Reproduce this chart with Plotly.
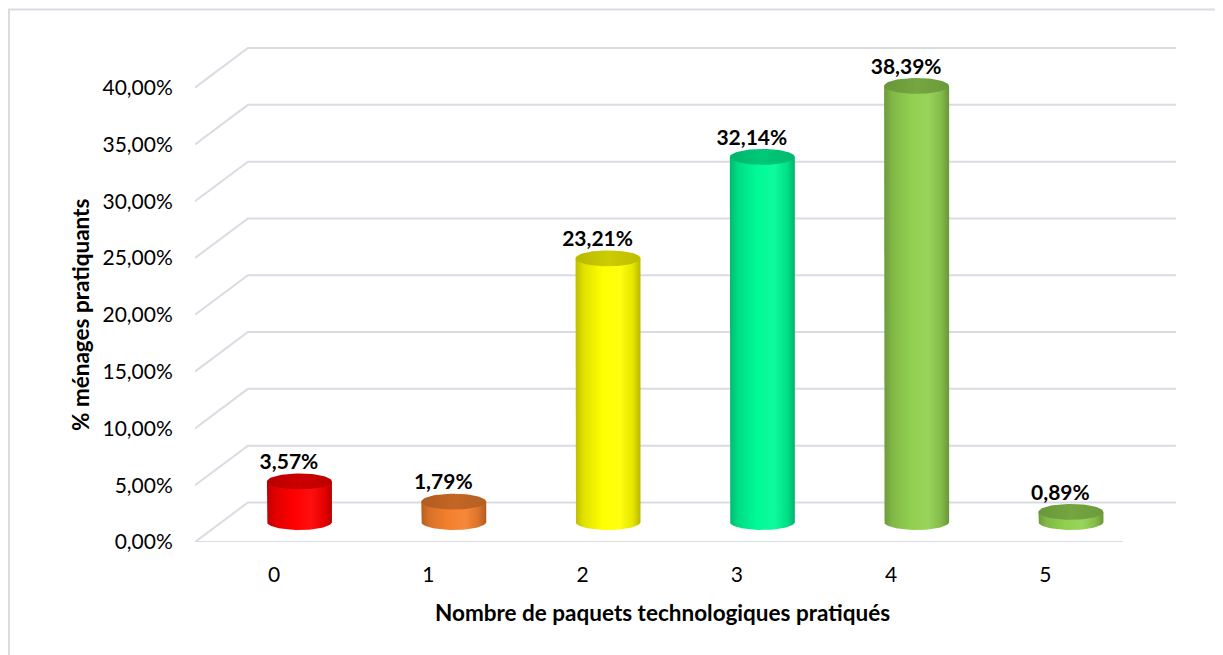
import numpy as np
import plotly.graph_objects as go

# ---------------- data ----------------
categories = ["0", "1", "2", "3", "4", "5"]
values = [3.57, 1.79, 23.21, 32.14, 38.39, 0.89]
value_labels = ["3,57%", "1,79%", "23,21%", "32,14%", "38,39%", "0,89%"]
bar_colors = ["#FF0000", "#F4802E", "#FFFF00", "#00FA96", "#92D050", "#92D050"]
y_tickvals = [0, 5, 10, 15, 20, 25, 30, 35, 40]
y_ticktext = ["0,00%", "5,00%", "10,00%", "15,00%", "20,00%", "25,00%",
              "30,00%", "35,00%", "40,00%"]
x_title = "Nombre de paquets technologiques pratiqués"
y_title = "% ménages pratiquants"

# ---------------- pseudo-3D geometry (axis units) ----------------
X_MIN, X_MAX = -0.512, 5.872          # x axis range
Y_MIN, Y_MAX = 0.0, 45.07             # y axis range
DEPTH_DX, DEPTH_DY = 0.343, 3.48      # front -> back wall shift
MID_DX, MID_DY = 0.165, 1.76          # front -> bar plane shift
BACK_RIGHT = 5.846                    # right end of back wall grid
FLOOR_RIGHT = 5.502                   # right end of front floor line
RX, RY = 0.2106, 0.70                 # cylinder half width / ellipse half height
LABEL_DX, LABEL_DY = 0.097, 3.30

FONT = "Lato, Carlito, Calibri, sans-serif"
GRID = "#D9DCE3"

# page body has an 8px margin: figure placed so plot area lands at x 195..1180, y 30..542
PAGE_OFF = 8
FIG_W, FIG_H = 1223 - PAGE_OFF, 655 - PAGE_OFF
M_L, M_T = 195 - PAGE_OFF, 30 - PAGE_OFF
PLOT_W, PLOT_H = 985, 512
M_R = FIG_W - M_L - PLOT_W
M_B = FIG_H - M_T - PLOT_H


def shade(hex_color, f):
    h = hex_color.lstrip("#")
    r, g, b = (int(h[i:i + 2], 16) for i in (0, 2, 4))
    if f <= 1:
        r, g, b = r * f, g * f, b * f
    else:
        t = f - 1
        r, g, b = r + (255 - r) * t, g + (255 - g) * t, b + (255 - b) * t
    return "rgb(%d,%d,%d)" % (round(r), round(g), round(b))


fig = go.Figure()

# gridlines: diagonal on the side wall + horizontal on the back wall
gx, gy = [], []
for v in y_tickvals:
    gx += [X_MIN, X_MIN + DEPTH_DX, BACK_RIGHT, None]
    gy += [v, v + DEPTH_DY, v + DEPTH_DY, None]
gx += [X_MIN, FLOOR_RIGHT, None]
gy += [0, 0, None]
fig.add_trace(go.Scatter(x=gx, y=gy, mode="lines",
                         line=dict(color=GRID, width=2),
                         hoverinfo="skip", showlegend=False, cliponaxis=False))

# cylinders
t_low = np.linspace(np.pi, 2 * np.pi, 40)     # lower half of ellipse
t_full = np.linspace(0, 2 * np.pi, 80)
for i, (v, col) in enumerate(zip(values, bar_colors)):
    xc = i + MID_DX
    base = MID_DY
    top = v + MID_DY
    bx = [xc - RX, xc - RX] + list(xc + RX * np.cos(t_low)) + [xc + RX, xc - RX]
    by = [top, base] + list(base + RY * np.sin(t_low)) + [top, top]
    scale = [[0, shade(col, 0.74)], [0.12, shade(col, 0.88)], [0.42, shade(col, 1.0)],
             [0.68, shade(col, 1.06)], [0.88, shade(col, 0.9)], [1, shade(col, 0.72)]]
    fig.add_trace(go.Scatter(x=bx, y=by, mode="lines", fill="toself",
                             line=dict(width=0, color=shade(col, 0.8)),
                             fillgradient=dict(type="horizontal", colorscale=scale),
                             hoverinfo="skip", showlegend=False))
    cx = xc + RX * np.cos(t_full)
    cy = top + RY * np.sin(t_full)
    cap_scale = [[0, shade(col, 0.72)], [0.5, shade(col, 0.8)], [1, shade(col, 0.74)]]
    fig.add_trace(go.Scatter(x=cx, y=cy, mode="lines", fill="toself",
                             line=dict(width=0, color=shade(col, 0.78)),
                             fillgradient=dict(type="horizontal", colorscale=cap_scale),
                             hoverinfo="skip", showlegend=False))

# data labels
fig.add_trace(go.Scatter(
    x=[i + LABEL_DX for i in range(len(values))],
    y=[v + LABEL_DY for v in values],
    mode="text", text=value_labels, textposition="middle center",
    textfont=dict(family=FONT, size=21, color="#000000", weight="bold"),
    cliponaxis=False, hoverinfo="skip", showlegend=False))

fig.update_xaxes(range=[X_MIN, X_MAX], tickmode="array",
                 tickvals=list(range(len(categories))), ticktext=categories,
                 showgrid=False, zeroline=False, showline=False,
                 ticks="outside", ticklen=14, tickcolor="rgba(0,0,0,0)",
                 tickfont=dict(family=FONT, size=21, color="#000000"),
                 fixedrange=True)
fig.update_yaxes(range=[Y_MIN, Y_MAX], tickmode="array",
                 tickvals=y_tickvals, ticktext=y_ticktext,
                 showgrid=False, zeroline=False, showline=False,
                 ticks="outside", ticklen=17, tickcolor="rgba(0,0,0,0)",
                 tickfont=dict(family=FONT, size=21, color="#000000"),
                 fixedrange=True)

fig.add_annotation(text=x_title, xref="paper", yref="paper",
                   x=(662 - 195) / PLOT_W, y=(542 - 612) / PLOT_H,
                   xanchor="center", yanchor="middle", showarrow=False,
                   font=dict(family=FONT, size=22.5, color="#000000", weight="bold"))
fig.add_annotation(text=y_title, xref="paper", yref="paper",
                   x=(80 - 195) / PLOT_W, y=(542 - 315) / PLOT_H, textangle=-90,
                   xanchor="center", yanchor="middle", showarrow=False,
                   font=dict(family=FONT, size=22.5, color="#000000", weight="bold"))

# outer chart frame (page x≈9, y≈9.5; right/bottom outside the view)
fig.add_shape(type="rect", xref="paper", yref="paper",
              x0=(9 - 195) / PLOT_W, x1=(1260 - 195) / PLOT_W,
              y0=(542 - 700) / PLOT_H, y1=(542 - 9.5) / PLOT_H,
              line=dict(color=GRID, width=2), fillcolor="rgba(0,0,0,0)", layer="below")

fig.update_layout(width=FIG_W, height=FIG_H,
                  margin=dict(l=M_L, r=M_R, t=M_T, b=M_B),
                  paper_bgcolor="white", plot_bgcolor="white",
                  showlegend=False, font=dict(family=FONT))

fig.write_html("out.html")
